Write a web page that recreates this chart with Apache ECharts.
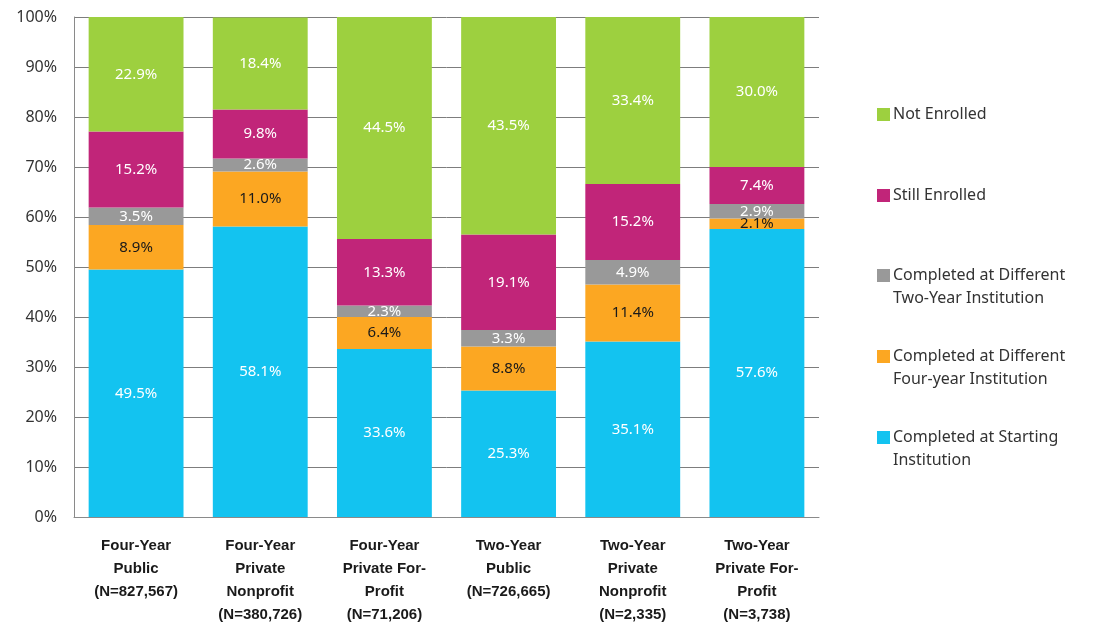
<!DOCTYPE html>
<html>
<head>
<meta charset="utf-8">
<script src="https://cdn.jsdelivr.net/npm/echarts@6/dist/echarts.min.js"></script>
<style>
html,body{margin:0;padding:0;background:#fff;}
#chart{width:1101px;height:626px;}
</style>
</head>
<body>
<div id="chart"></div>
<script>
const categories = [
  'Four-Year\nPublic\n(N=827,567)',
  'Four-Year\nPrivate\nNonprofit\n(N=380,726)',
  'Four-Year\nPrivate For-\nProfit\n(N=71,206)',
  'Two-Year\nPublic\n(N=726,665)',
  'Two-Year\nPrivate\nNonprofit\n(N=2,335)',
  'Two-Year\nPrivate For-\nProfit\n(N=3,738)'
];
const completedStarting = [49.5, 58.1, 33.6, 25.3, 35.1, 57.6];
const completedFourYear = [8.9, 11.0, 6.4, 8.8, 11.4, 2.1];
const completedTwoYear = [3.5, 2.6, 2.3, 3.3, 4.9, 2.9];
const stillEnrolled = [15.2, 9.8, 13.3, 19.1, 15.2, 7.4];
const notEnrolled = [22.9, 18.4, 44.5, 43.5, 33.4, 30.0];
const yTicks = [0, 10, 20, 30, 40, 50, 60, 70, 80, 90, 100];

const seriesDefs = [
  {name: 'Completed at Starting Institution', legend: 'Completed at Starting\nInstitution', data: completedStarting, color: '#13C3F0', label: '#ffffff'},
  {name: 'Completed at Different Four-year Institution', legend: 'Completed at Different\nFour-year Institution', data: completedFourYear, color: '#FCA722', label: '#1a1a1a'},
  {name: 'Completed at Different Two-Year Institution', legend: 'Completed at Different\nTwo-Year Institution', data: completedTwoYear, color: '#999999', label: '#ffffff'},
  {name: 'Still Enrolled', legend: 'Still Enrolled', data: stillEnrolled, color: '#C12579', label: '#ffffff'},
  {name: 'Not Enrolled', legend: 'Not Enrolled', data: notEnrolled, color: '#9DD03F', label: '#ffffff'}
];
const legendTops = [398, 317, 236, 179, 98];

const chart = echarts.init(document.getElementById('chart'), null, {renderer: 'canvas'});
const legendNames = {};
seriesDefs.forEach(s => legendNames[s.name] = s.legend);

const option = {
  animation: false,
  backgroundColor: '#ffffff',
  grid: {left: 74, right: 282, top: 17, bottom: 108, containLabel: false},
  legend: seriesDefs.map((s, i) => ({
    data: [s.name],
    orient: 'vertical',
    left: 872,
    top: legendTops[i],
    itemWidth: 13,
    itemHeight: 13,
    itemGap: 0,
    icon: 'rect',
    selectedMode: false,
    formatter: function (n) {
      const t = legendNames[n];
      return t.indexOf('\n') >= 0 ? ' \n' + t : t;
    },
    textStyle: {fontFamily: 'Noto Sans', fontSize: 16, color: '#333333', lineHeight: 23, padding: [0, 0, 0, -2]}
  })),
  xAxis: {
    type: 'category',
    data: categories,
    axisLine: {show: true, lineStyle: {color: '#8a8a8a', width: 1}},
    axisTick: {show: false},
    axisLabel: {
      interval: 0,
      margin: 17,
      fontFamily: 'Liberation Sans',
      fontWeight: 'bold',
      fontSize: 15,
      lineHeight: 23,
      color: '#1a1a1a',
      verticalAlign: 'top'
    }
  },
  yAxis: {
    type: 'value',
    min: 0,
    max: 100,
    interval: 10,
    axisLine: {show: true, lineStyle: {color: '#8a8a8a', width: 1}},
    axisTick: {show: false},
    splitLine: {show: true, lineStyle: {color: '#7d7d7d', width: 1}},
    axisLabel: {
      margin: 17,
      fontFamily: 'Noto Sans',
      fontSize: 16,
      color: '#333333',
      formatter: function (v) { return yTicks.indexOf(v) >= 0 ? v + '%' : ''; }
    }
  },
  series: seriesDefs.map(s => ({
    name: s.name,
    type: 'bar',
    stack: 'total',
    barCategoryGap: '23.6%',
    data: s.data,
    itemStyle: {color: s.color},
    label: {
      show: true,
      position: 'inside',
      fontFamily: 'Noto Sans',
      fontSize: 15,
      color: s.label,
      formatter: function (p) { return p.value.toFixed(1) + '%'; }
    }
  }))
};
chart.setOption(option);
</script>
</body>
</html>
